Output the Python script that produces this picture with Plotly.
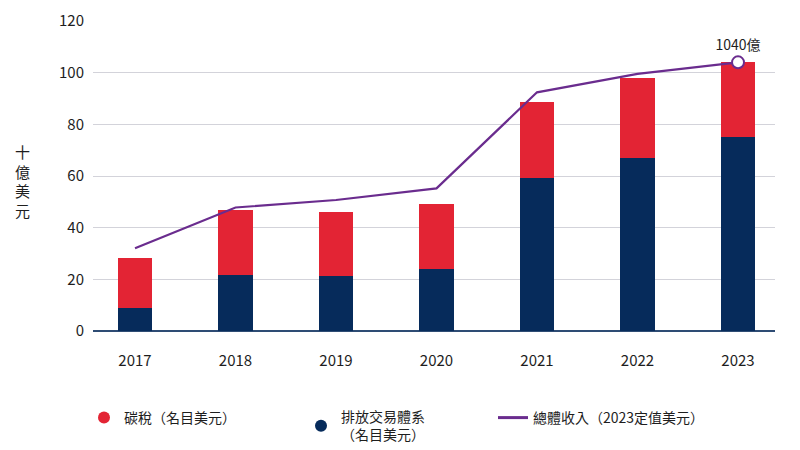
import plotly.graph_objects as go

years = ["2017", "2018", "2019", "2020", "2021", "2022", "2023"]
ets = [9.0, 21.7, 21.3, 24.0, 59.3, 67.0, 75.0]
carbon_tax = [19.1, 25.0, 24.8, 25.0, 29.4, 30.8, 29.2]
total_real = [32.0, 47.8, 50.7, 55.2, 92.4, 99.5, 104.0]
y_ticks = [0, 20, 40, 60, 80, 100, 120]

RED = "#E32434"
NAVY = "#062B5B"
PURPLE = "#6A2C8E"
FONT = "Noto Sans CJK TC"
TXT = "#1E1E1E"

fig = go.Figure()
fig.add_trace(go.Bar(x=years, y=ets, marker=dict(color=NAVY, line_width=0),
                     width=0.34, showlegend=False, name="排放交易體系"))
fig.add_trace(go.Bar(x=years, y=carbon_tax, marker=dict(color=RED, line_width=0),
                     width=0.34, showlegend=False, name="碳稅"))
fig.add_trace(go.Scatter(x=years, y=total_real, mode="lines",
                         line=dict(color=PURPLE, width=2.2), showlegend=False))
fig.add_trace(go.Scatter(x=[years[-1]], y=[total_real[-1]], mode="markers+text",
                         marker=dict(size=12, color="white", line=dict(color=PURPLE, width=2)),
                         text=["1040億"], textposition="top center",
                         textfont=dict(size=14, color=TXT, family=FONT),
                         showlegend=False))

# legend proxies
fig.add_trace(go.Scatter(x=[None], y=[None], mode="markers", name="碳稅（名目美元）",
                         marker=dict(color=RED, size=12, symbol="circle"), legend="legend"))
fig.add_trace(go.Scatter(x=[None], y=[None], mode="markers", name="排放交易體系<br>（名目美元）",
                         marker=dict(color=NAVY, size=12, symbol="circle"), legend="legend2"))
fig.add_trace(go.Scatter(x=[None], y=[None], mode="lines", name="總體收入（2023定值美元）",
                         line=dict(color=PURPLE, width=3), legend="legend3"))

leg_common = dict(font=dict(size=14, color=TXT, family=FONT), bgcolor="rgba(0,0,0,0)",
                  xanchor="left", yanchor="top", itemwidth=30, tracegroupgap=0,
                  xref="container", yref="container")

fig.update_layout(
    width=800, height=450,
    margin=dict(l=85, r=33, t=13, b=127, autoexpand=False),
    paper_bgcolor="white", plot_bgcolor="white",
    barmode="stack",
    font=dict(family=FONT, color=TXT, size=15),
    xaxis=dict(type="category", range=[-0.418, 6.368], showgrid=False, automargin=False,
               tickfont=dict(size=15, color=TXT), ticklabelstandoff=19,
               showline=False),
    yaxis=dict(range=[0, 120], tickvals=y_ticks, showgrid=True, gridcolor="#D3D3DA",
               gridwidth=1, zeroline=True, zerolinecolor="#2E4C74", zerolinewidth=2,
               automargin=False,
               tickfont=dict(size=15, color=TXT), ticklabelstandoff=8),
    legend=dict(x=76 / 800, y=1 - 394 / 450, **leg_common),
    legend2=dict(x=293 / 800, y=1 - 393 / 450, **leg_common),
    legend3=dict(x=485 / 800, y=1 - 394 / 450, **leg_common),
    annotations=[dict(text="十<br>億<br>美<br>元", xref="paper", yref="paper",
                      x=(22 - 93) / 682, y=(331 - 181) / 310, xanchor="center", yanchor="middle",
                      showarrow=False, font=dict(size=15, color=TXT, family=FONT))],
)

fig.write_html("out.html")
